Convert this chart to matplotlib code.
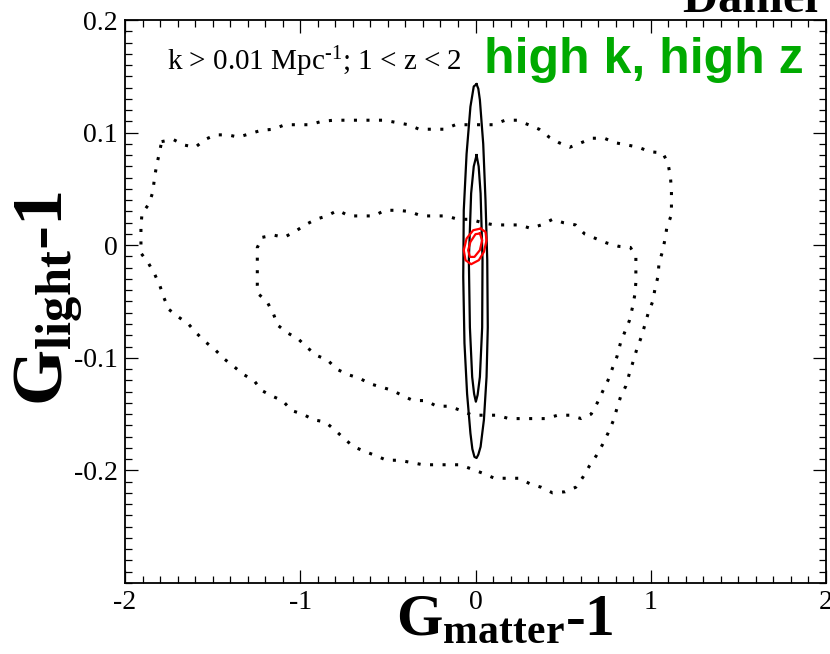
import numpy as np
import matplotlib
matplotlib.use("Agg")
import matplotlib.pyplot as plt
from matplotlib.ticker import MultipleLocator

plt.rcParams['font.family'] = 'Liberation Serif'
plt.rcParams['mathtext.fontset'] = 'custom'
plt.rcParams['mathtext.rm'] = 'Liberation Serif'
plt.rcParams['mathtext.it'] = 'Liberation Serif:italic'
plt.rcParams['mathtext.bf'] = 'Liberation Serif:bold'
plt.rcParams['axes.unicode_minus'] = False

# dotted contours (outer = 95%, inner = 68%)
dotted_outer_gm = [-1.791, -1.726, -1.664, -1.599, -1.542, -1.483, -1.414, -1.353, -1.288, -1.224,
                   -1.153, -1.088, -1.017, -0.945, -0.878, -0.809, -0.736, -0.664, -0.593, -0.522,
                   -0.452, -0.383, -0.322, -0.251, -0.179, -0.114, -0.039, 0.029, 0.100, 0.169,
                   0.236, 0.302, 0.363, 0.420, 0.477, 0.538, 0.603, 0.664, 0.735, 0.797,
                   0.866, 0.929, 0.996, 1.068, 1.098, 1.112, 1.118, 1.118, 1.118, 1.092,
                   1.082, 1.068, 1.047, 1.041, 1.025, 1.011, 0.986, 0.966, 0.945, 0.921,
                   0.900, 0.878, 0.858, 0.827, 0.807, 0.786, 0.756, 0.725, 0.689, 0.650,
                   0.613, 0.572, 0.511, 0.440, 0.375, 0.312, 0.249, 0.179, 0.108, 0.049,
                   -0.018, -0.090, -0.157, -0.228, -0.300, -0.367, -0.436, -0.507, -0.568, -0.634,
                   -0.695, -0.748, -0.803, -0.858, -0.925, -0.986, -1.047, -1.102, -1.161, -1.220,
                   -1.265, -1.322, -1.377, -1.434, -1.485, -1.540, -1.593, -1.638, -1.693, -1.750,
                   -1.777, -1.801, -1.830, -1.866, -1.909, -1.909, -1.909, -1.903, -1.862, -1.842,
                   -1.832, -1.821, -1.805, -1.791]
dotted_outer_gl = [0.092, 0.094, 0.089, 0.087, 0.094, 0.098, 0.098, 0.096, 0.099, 0.102,
                   0.103, 0.107, 0.107, 0.107, 0.110, 0.111, 0.111, 0.111, 0.111, 0.111,
                   0.109, 0.107, 0.103, 0.103, 0.103, 0.107, 0.107, 0.107, 0.107, 0.111,
                   0.111, 0.107, 0.103, 0.096, 0.091, 0.087, 0.091, 0.095, 0.095, 0.091,
                   0.089, 0.087, 0.083, 0.082, 0.073, 0.061, 0.049, 0.038, 0.027, 0.016,
                   0.006, -0.005, -0.016, -0.028, -0.038, -0.050, -0.060, -0.071, -0.082, -0.092,
                   -0.103, -0.114, -0.125, -0.135, -0.145, -0.156, -0.167, -0.177, -0.187, -0.196,
                   -0.206, -0.215, -0.219, -0.220, -0.215, -0.212, -0.207, -0.207, -0.207, -0.203,
                   -0.199, -0.195, -0.195, -0.195, -0.195, -0.193, -0.191, -0.191, -0.187, -0.183,
                   -0.179, -0.172, -0.164, -0.157, -0.155, -0.150, -0.147, -0.138, -0.134, -0.129,
                   -0.120, -0.115, -0.108, -0.101, -0.093, -0.086, -0.078, -0.070, -0.064, -0.057,
                   -0.047, -0.036, -0.026, -0.016, -0.007, 0.006, 0.017, 0.028, 0.037, 0.047,
                   0.059, 0.070, 0.081, 0.092]

dotted_inner_gm = [-1.216, -1.153, -1.092, -1.031, -0.972, -0.911, -0.848, -0.786, -0.721, -0.650,
                   -0.579, -0.518, -0.446, -0.379, -0.308, -0.236, -0.167, -0.100, -0.029, 0.039,
                   0.108, 0.179, 0.251, 0.314, 0.375, 0.440, 0.501, 0.571, 0.623, 0.685,
                   0.748, 0.817, 0.884, 0.915, 0.915, 0.915, 0.909, 0.896, 0.878, 0.852,
                   0.827, 0.807, 0.782, 0.756, 0.725, 0.695, 0.660, 0.603, 0.538, 0.469,
                   0.403, 0.332, 0.261, 0.190, 0.124, 0.057, -0.018, -0.080, -0.151, -0.222,
                   -0.283, -0.355, -0.412, -0.473, -0.538, -0.603, -0.664, -0.727, -0.793, -0.844,
                   -0.905, -0.960, -1.013, -1.072, -1.129, -1.153, -1.190, -1.241, -1.245, -1.245,
                   -1.245, -1.245, -1.216]
dotted_inner_gl = [0.007, 0.009, 0.007, 0.012, 0.018, 0.023, 0.026, 0.031, 0.026, 0.026,
                   0.026, 0.031, 0.031, 0.030, 0.026, 0.026, 0.026, 0.023, 0.023, 0.020,
                   0.018, 0.018, 0.018, 0.015, 0.018, 0.023, 0.020, 0.018, 0.010, 0.006,
                   0.002, -0.001, -0.002, -0.010, -0.022, -0.033, -0.044, -0.055, -0.067, -0.077,
                   -0.087, -0.099, -0.109, -0.120, -0.130, -0.140, -0.150, -0.154, -0.151, -0.151,
                   -0.154, -0.154, -0.154, -0.154, -0.151, -0.151, -0.151, -0.147, -0.143, -0.143,
                   -0.138, -0.138, -0.134, -0.129, -0.126, -0.123, -0.118, -0.115, -0.110, -0.102,
                   -0.098, -0.091, -0.083, -0.078, -0.071, -0.061, -0.050, -0.043, -0.036, -0.025,
                   -0.013, -0.002, 0.007]

# solid black contours
solid_outer_gm = [0.006, 0.016, 0.025, 0.044, 0.057, 0.067, 0.070, 0.063, 0.048, 0.029, 0.016, 0.006,
                  -0.006, -0.018, -0.029, -0.048, -0.063, -0.070, -0.067, -0.051, -0.029, -0.010, 0.006]
solid_outer_gl = [0.143, 0.139, 0.129, 0.090, 0.040, -0.013, -0.073, -0.117, -0.155, -0.179, -0.186, -0.189,
                  -0.188, -0.181, -0.167, -0.132, -0.087, -0.028, 0.031, 0.081, 0.123, 0.141, 0.143]

solid_inner_gm = [0.006, 0.018, 0.029, 0.040, 0.038, 0.025, 0.012, 0.002,
                  -0.008, -0.019, -0.032, -0.038, -0.025, -0.010, 0.006]
solid_inner_gl = [0.080, 0.070, 0.046, -0.013, -0.073, -0.117, -0.133, -0.139,
                  -0.132, -0.117, -0.073, -0.013, 0.046, 0.070, 0.080]

# red contours
red_outer_gm = [0.029, 0.057, 0.063, 0.048, 0.019, -0.025, -0.057, -0.067, -0.051, -0.013, 0.029]
red_outer_gl = [0.0148, 0.0118, 0.0044, -0.0059, -0.0133, -0.0169, -0.0133, -0.0044, 0.0059, 0.0133, 0.0148]

red_inner_gm = [0.025, 0.038, 0.025, -0.006, -0.032, -0.042, -0.029, 0.000, 0.025]
red_inner_gl = [0.0104, 0.0044, -0.0044, -0.0104, -0.0104, -0.0044, 0.0029, 0.0098, 0.0104]

x_ticks = [-2, -1, 0, 1, 2]
x_labels = ['-2', '-1', '0', '1', '2']
y_ticks = [-0.2, -0.1, 0.0, 0.1, 0.2]
y_labels = ['-0.2', '-0.1', '0', '0.1', '0.2']

fig = plt.figure(figsize=(8.3, 6.54), dpi=100)
ax = fig.add_axes([0.1506, 0.1086, 0.8446, 0.8608])

dots = (0, (1, 3.1))
ax.plot(dotted_outer_gm, dotted_outer_gl, color='black', lw=2.2, ls=dots)
ax.plot(dotted_inner_gm, dotted_inner_gl, color='black', lw=2.2, ls=dots)
ax.plot(solid_outer_gm, solid_outer_gl, color='black', lw=1.6)
ax.plot(solid_inner_gm, solid_inner_gl, color='black', lw=1.6)
ax.plot(red_outer_gm, red_outer_gl, color='red', lw=1.6)
ax.plot(red_inner_gm, red_inner_gl, color='red', lw=1.6)

ax.set_xlim(-2, 2)
ax.set_ylim(-0.3, 0.2)
ax.set_xticks(x_ticks, labels=x_labels)
ax.set_yticks(y_ticks, labels=y_labels)
ax.xaxis.set_minor_locator(MultipleLocator(0.1))
ax.yaxis.set_minor_locator(MultipleLocator(0.01))
ax.tick_params(which='both', direction='in', top=True, right=True, width=0.9, labelsize=20)
ax.tick_params(which='major', length=9.5, pad=5)
ax.tick_params(which='minor', length=4.7)
for s in ax.spines.values():
    s.set_linewidth(1.3)

ax.text(0.060, 0.911, 'k > 0.01 Mpc$^{\u2010 1}$; 1 < z < 2', transform=ax.transAxes,
        fontsize=21, va='baseline', ha='left')
ax.text(0.512, 0.906, 'high k, high z', transform=ax.transAxes, color='#00aa00',
        fontsize=36, fontweight='bold', family='Liberation Sans', va='baseline', ha='left')

ax.text(0.542, -0.092, r'$\mathbf{G}_{\mathbf{matter}}$-1', transform=ax.transAxes,
        fontsize=43, fontweight='bold', va='baseline', ha='center', clip_on=False)
ax.text(-0.088, 0.506, r'$\mathbf{G}_{\mathbf{light}}$-1', transform=ax.transAxes,
        fontsize=52, fontweight='bold', va='baseline', ha='center', rotation=90,
        rotation_mode='anchor', clip_on=False)

fig.text(683 / 830, 1 - 12 / 654, 'Daniel Shafer', fontsize=35, fontweight='bold',
         va='baseline', ha='left')

fig.savefig('out.png', dpi=100)
